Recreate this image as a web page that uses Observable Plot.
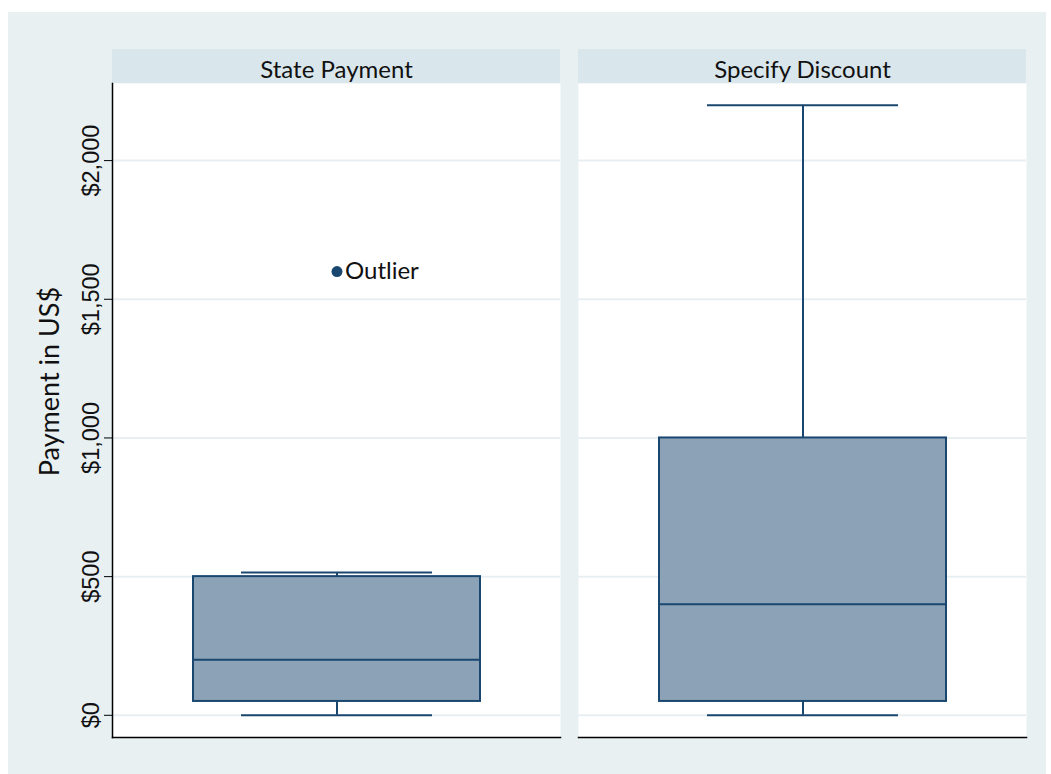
<!DOCTYPE html>
<html><head><meta charset="utf-8">
<script src="https://cdn.jsdelivr.net/npm/d3@7"></script>
<script src="https://cdn.jsdelivr.net/npm/@observablehq/plot@0.6"></script>
<style>
body{margin:0;background:#fff;}
#wrap{position:relative;width:1051px;height:774px;overflow:hidden;}
#bg{position:absolute;left:8px;top:12px;width:1038px;height:762px;background:#e8f0f2;}
#chart{position:absolute;left:0;top:0;}
</style></head><body>
<div id="wrap"><div id="bg"></div><div id="chart"></div></div>
<script>
// ---- data ----
const panels = ["State Payment", "Specify Discount"];
const lowerWhisker = [0, 0];
const q1 = [50, 50];
const median = [200, 400];
const q3 = [500, 1000];
const upperWhisker = [515, 2200];
const outlierPanels = ["State Payment"];
const outlierValues = [1600];
const outlierLabels = ["Outlier"];
const yTicks = [0, 500, 1000, 1500, 2000];
const yTickLabels = ["$0", "$500", "$1,000", "$1,500", "$2,000"];
const yTitle = "Payment in US$";

// ---- tables ----
const boxes = panels.map((p, i) => ({panel: p, grp: "box", lo: lowerWhisker[i], q1: q1[i], med: median[i], q3: q3[i], hi: upperWhisker[i]}));
const outliers = outlierPanels.map((p, i) => ({panel: p, grp: "box", value: outlierValues[i], label: outlierLabels[i]}));
const tickRows = yTicks.map((v, i) => ({panel: panels[0], v, label: yTickLabels[i]}));

// ---- layout ----
const W = 1051, H = 774, MT = 83, MB = 37, ML = 112, MR = 24;
const frameH = H - MT - MB;
const navy = "#1a476f";
const sans = "Lato";
const arial = "Liberation Sans";

const chart = Plot.plot({
  width: W, height: H,
  marginTop: MT, marginBottom: MB, marginLeft: ML, marginRight: MR,
  style: {background: "transparent", overflow: "visible", fontFamily: arial},
  fx: {domain: panels, paddingInner: 0.0386, paddingOuter: 0, axis: null, label: null},
  x: {domain: ["box"], padding: 0.218, axis: null},
  y: {domain: [-80, 2278], axis: null},
  marks: [
    Plot.frame({fill: "white", stroke: "none"}),
    Plot.rect(panels, {fx: d => d, fill: "#d9e6eb", insetTop: -34, insetBottom: frameH}),
    Plot.text(panels, {fx: d => d, text: d => d, frameAnchor: "top", lineAnchor: "bottom", dy: -6, fontSize: 24, fontFamily: sans, fill: "#111"}),
    Plot.gridY(yTicks, {stroke: "#e8eff3", strokeOpacity: 1, strokeWidth: 2}),
    Plot.ruleX(boxes, {fx: "panel", x: "grp", y1: "q3", y2: "hi", stroke: navy, strokeWidth: 2}),
    Plot.ruleX(boxes, {fx: "panel", x: "grp", y1: "lo", y2: "q1", stroke: navy, strokeWidth: 2}),
    Plot.tickY(boxes, {fx: "panel", x: "grp", y: "hi", inset: 48, stroke: navy, strokeWidth: 2}),
    Plot.tickY(boxes, {fx: "panel", x: "grp", y: "lo", inset: 48, stroke: navy, strokeWidth: 2}),
    Plot.barY(boxes, {fx: "panel", x: "grp", y1: "q1", y2: "q3", fill: "#8ca3b7", stroke: navy, strokeWidth: 2}),
    Plot.tickY(boxes, {fx: "panel", x: "grp", y: "med", stroke: navy, strokeWidth: 2}),
    Plot.dot(outliers, {fx: "panel", x: "grp", y: "value", r: 5.5, fill: navy, stroke: "none"}),
    Plot.text(outliers, {fx: "panel", x: "grp", y: "value", text: "label", textAnchor: "start", dx: 8, fontSize: 24, fontFamily: sans, fill: "#111"}),
    Plot.axisY(yTicks, {tickSize: 8, tickFormat: () => "", label: null, stroke: "black"}),
    Plot.text(tickRows, {fx: "panel", y: "v", text: "label", frameAnchor: "left", rotate: -90, textAnchor: "middle", lineAnchor: "bottom", dx: -14, fontSize: 23.5, fontFamily: arial, fill: "#111"}),
    Plot.text([yTitle], {fx: () => panels[0], text: d => d, frameAnchor: "left", rotate: -90, textAnchor: "middle", lineAnchor: "bottom", dx: -54, dy: -29, fontSize: 27, fontFamily: sans, fill: "#111"}),
    Plot.frame({anchor: "bottom", stroke: "black", strokeWidth: 1.5}),
    Plot.frame({anchor: "left", stroke: "black", strokeWidth: 1.5, facetAnchor: "left"})
  ]
});
document.getElementById("chart").appendChild(chart);
</script>
</body></html>
